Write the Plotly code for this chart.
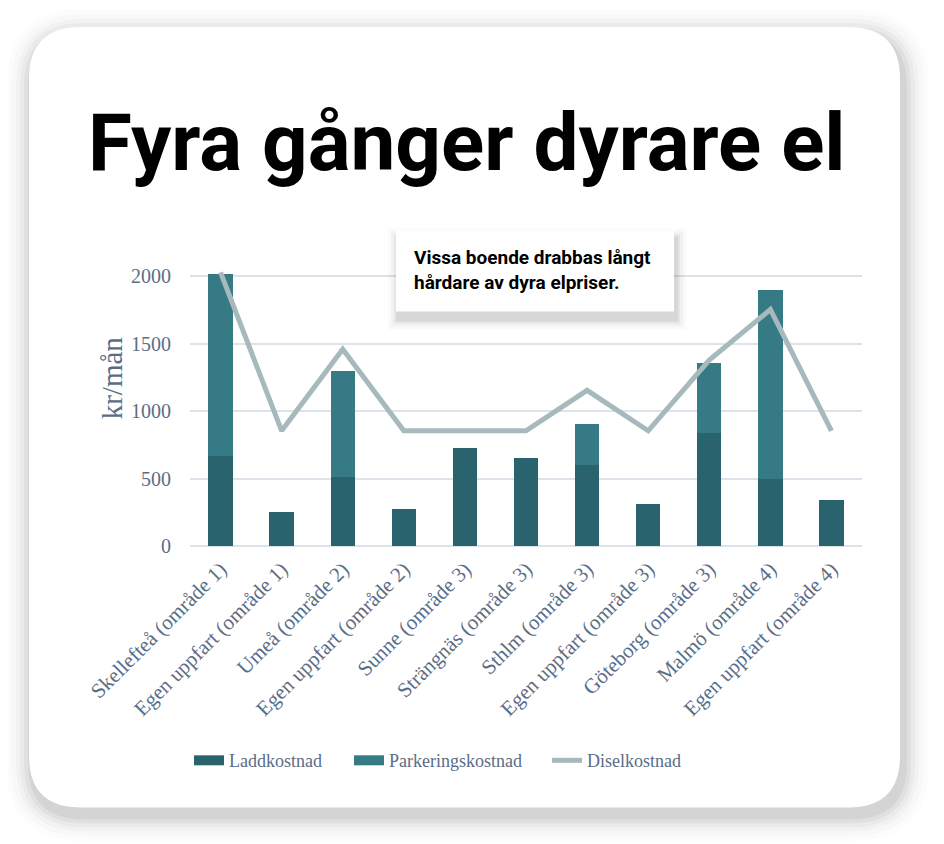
import plotly.graph_objects as go

platser = ["Skellefteå (område 1)", "Egen uppfart (område 1)", "Umeå (område 2)",
           "Egen uppfart (område 2)", "Sunne (område 3)", "Strängnäs (område 3)",
           "Sthlm (område 3)", "Egen uppfart (område 3)", "Göteborg (område 3)",
           "Malmö (område 4)", "Egen uppfart (område 4)"]
laddkostnad = [670, 255, 510, 275, 725, 650, 600, 315, 840, 500, 345]
parkeringskostnad = [1350, 0, 790, 0, 0, 0, 305, 0, 515, 1400, 0]
diselkostnad = [2030, 855, 1460, 855, 855, 855, 1155, 855, 1380, 1755, 855]

W, H = 944, 844
OFF = 8  # page body margin
L, R, T, B = 190, 862, 262.5, 546   # plot area in screen pixels
SERIF = "Liberation Serif, Times New Roman, serif"
COND = "Roboto, Liberation Sans, sans-serif"
TXT = "#5a6d86"
C_LADD = "#29636d"
C_PARK = "#357a84"
C_DISEL = "#a6b9bc"


def px(x, y):
    return (x - L) / (R - L), (B - y) / (B - T)


def rrect(x0, y0, x1, y1, r):
    pts = []
    a = px(x0 + r, y0); pts.append("M%f,%f" % a)
    b = px(x1 - r, y0); pts.append("L%f,%f" % b)
    c = px(x1, y0 + r); e = px(x1, y0)
    pts.append("Q%f,%f %f,%f" % (e[0], e[1], c[0], c[1]))
    d = px(x1, y1 - r); pts.append("L%f,%f" % d)
    e = px(x1, y1); f = px(x1 - r, y1)
    pts.append("Q%f,%f %f,%f" % (e[0], e[1], f[0], f[1]))
    g = px(x0 + r, y1); pts.append("L%f,%f" % g)
    e = px(x0, y1); h = px(x0, y1 - r)
    pts.append("Q%f,%f %f,%f" % (e[0], e[1], h[0], h[1]))
    i = px(x0, y0 + r); pts.append("L%f,%f" % i)
    e = px(x0, y0)
    pts.append("Q%f,%f %f,%f Z" % (e[0], e[1], a[0], a[1]))
    return " ".join(pts)


fig = go.Figure()
fig.add_trace(go.Bar(x=platser, y=laddkostnad, name="Laddkostnad",
                     marker=dict(color=C_LADD, line=dict(width=0)), showlegend=False))
fig.add_trace(go.Bar(x=platser, y=parkeringskostnad, name="Parkeringskostnad",
                     marker=dict(color=C_PARK, line=dict(width=0)), showlegend=False))
fig.add_trace(go.Scatter(x=platser, y=diselkostnad, name="Diselkostnad", mode="lines",
                         line=dict(color=C_DISEL, width=5), showlegend=False))

# legend entries with wide swatches, one legend each so they can be placed
legends = {}
for i, (name, col, w, lx) in enumerate([("Laddkostnad", C_LADD, 10, 189),
                                        ("Parkeringskostnad", C_PARK, 10, 349),
                                        ("Diselkostnad", C_DISEL, 5, 547)]):
    key = "legend" if i == 0 else "legend%d" % (i + 1)
    fig.add_trace(go.Scatter(x=[None], y=[None], mode="lines", name=name,
                             line=dict(color=col, width=w), legend=key))
    legends[key] = dict(orientation="h", x=px(lx, 0)[0], xanchor="left",
                        y=px(0, 761)[1], yanchor="middle",
                        font=dict(family=SERIF, size=18, color=TXT),
                        bgcolor="rgba(0,0,0,0)")

shapes = []
# card shadow, soft and mostly below/right
for k, op in [(26, 0.012), (21, 0.016), (16, 0.022), (12, 0.03), (8, 0.04), (4, 0.05)]:
    shapes.append(dict(type="path", xref="paper", yref="paper", layer="below",
                       path=rrect(29 - k + 3, 26 - k + 8, 900 + k + 3, 808 + k + 8, 52 + k),
                       fillcolor="rgba(0,0,0,%s)" % op, line=dict(width=0)))
shapes.append(dict(type="path", xref="paper", yref="paper", layer="below",
                   path=rrect(29, 26, 900, 808, 52), fillcolor="white", line=dict(width=0)))
# annotation box shadow + box
for k, op in [(10, 0.02), (7, 0.03), (4, 0.05), (2, 0.06)]:
    x0, y0 = px(396 - k + 2, 230 - k + 8)
    x1, y1 = px(674 + k + 2, 311 + k + 8)
    shapes.append(dict(type="rect", xref="paper", yref="paper", layer="above",
                       x0=x0, y0=y0, x1=x1, y1=y1,
                       fillcolor="rgba(0,0,0,%s)" % op, line=dict(width=0)))
x0, y0 = px(396, 230)
x1, y1 = px(674, 311)
shapes.append(dict(type="rect", xref="paper", yref="paper", layer="above",
                   x0=x0, y0=y0, x1=x1, y1=y1, fillcolor="white", line=dict(width=0)))

tx, ty = px(467, 142)
bx, by = px(412, 270)
yx, yy = px(112, 378)
fig.update_layout(
    width=W, height=H,
    margin=dict(l=L - OFF, r=W - R + OFF, t=T - OFF, b=H - B + OFF),
    paper_bgcolor="white", plot_bgcolor="rgba(0,0,0,0)",
    barmode="stack", bargap=0.6,
    shapes=shapes,
    annotations=[
        dict(text="<b>Fyra gånger dyrare el</b>", x=tx, y=ty, xref="paper", yref="paper",
             showarrow=False, xanchor="center", yanchor="middle",
             font=dict(family=COND, size=80, color="black")),
        dict(text="<b>Vissa boende drabbas långt<br>hårdare av dyra elpriser.</b>",
             x=bx, y=by, xref="paper", yref="paper", showarrow=False,
             xanchor="left", yanchor="middle", align="left",
             font=dict(family=COND, size=19, color="black")),
        dict(text="kr/mån", x=yx, y=yy, xref="paper", yref="paper", showarrow=False,
             textangle=-90, xanchor="center", yanchor="middle",
             font=dict(family=SERIF, size=29, color=TXT)),
    ],
    xaxis=dict(tickangle=-45, tickfont=dict(family=SERIF, size=21, color=TXT),
               showgrid=False, showline=False, ticks="", ticklabelstandoff=6),
    yaxis=dict(range=[0, 2100], tickvals=[0, 500, 1000, 1500, 2000],
               tickfont=dict(family=SERIF, size=20, color=TXT),
               gridcolor="#dde3ea", gridwidth=1.5, zeroline=True, zerolinecolor="#dde3ea",
               zerolinewidth=1.5, ticks="", ticklabelstandoff=18),
    **legends,
)

fig.write_html("out.html")
